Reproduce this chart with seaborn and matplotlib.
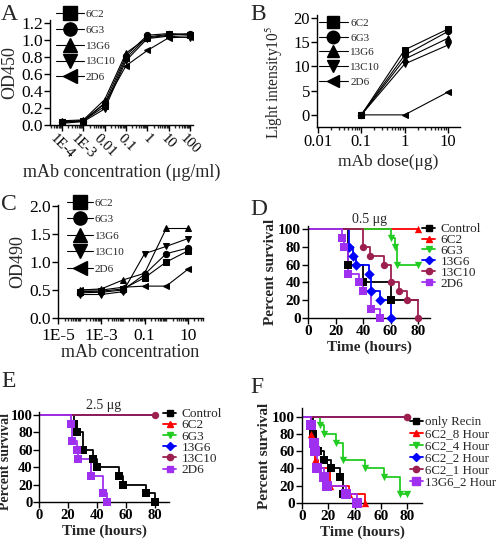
import matplotlib
matplotlib.use("Agg")
import matplotlib.pyplot as plt
import seaborn as sns
from matplotlib.lines import Line2D
from matplotlib.ticker import LogLocator, NullFormatter, FixedLocator, FixedFormatter

# ---------------- data ----------------
clones = ["6C2", "6G3", "13G6", "13C10", "2D6"]
clone_markers = ["s", "o", "^", "v", "<"]

# Panel A : ELISA
conc_a = [1e-4, 1e-3, 1e-2, 1e-1, 1, 10, 100]
conc_a_labels = ["1E-4", "1E-3", "0.01", "0.1", "1", "10", "100"]
od450_6C2 = [0.03, 0.05, 0.22, 0.79, 1.04, 1.07, 1.06]
od450_6G3 = [0.04, 0.05, 0.26, 0.82, 1.06, 1.08, 1.07]
od450_13G6 = [0.05, 0.06, 0.30, 0.85, 1.03, 1.06, 1.08]
od450_13C10 = [0.02, 0.04, 0.19, 0.76, 1.02, 1.05, 1.03]
od450_2D6 = [0.03, 0.05, 0.25, 0.70, 0.88, 1.03, 1.04]

# Panel B : light intensity (x10^5)
dose_b = [0.1, 1, 10]
dose_b_ticks = [0.01, 0.1, 1, 10]
dose_b_labels = ["0.01", "0.1", "1", "10"]
light_6C2 = [0, 13.4, 17.7]
light_6G3 = [0, 12.3, 17.2]
light_13G6 = [0, 11.5, 15.8]
light_13C10 = [0, 10.5, 14.4]
light_2D6 = [0, 0, 4.7]

# Panel C : OD490
conc_c = [1e-4, 1e-3, 1e-2, 1e-1, 1, 10]
conc_c_ticks = [1e-5, 1e-3, 1e-1, 10]
conc_c_labels = ["1E-5", "1E-3", "0.1", "10"]
od490_6C2 = [0.47, 0.48, 0.52, 0.72, 1.00, 1.20]
od490_6G3 = [0.45, 0.46, 0.50, 0.78, 1.15, 1.25]
od490_13G6 = [0.50, 0.52, 0.68, 0.80, 1.60, 1.60]
od490_13C10 = [0.42, 0.42, 0.47, 1.15, 1.28, 1.42]
od490_2D6 = [0.50, 0.50, 0.55, 0.57, 0.57, 0.87]

# Survival panels
km_colors = ["black", "#ff0000", "#22cc22", "#0000ff", "#9c1f4f", "#a030f0"]
km_markers = ["s", "^", "v", "D", "o", "s"]
groups_de = ["Control", "6C2", "6G3", "13G6", "13C10", "2D6"]
groups_f = ["only Recin", "6C2_8 Hour", "6C2_4 Hour", "6C2_2 Hour", "6C2_1 Hour", "13G6_2 Hour"]

# Panel D (0.5 ug): event times (h) and survival (%) after each event, last follow-up time
d_t_control = [29, 40, 60];                  d_s_control = [60, 40, 20];                  d_end_control = 80
d_t_6C2 = [];                                d_s_6C2 = [];                                d_end_6C2 = 80
d_t_6G3 = [60, 63, 65];                      d_s_6G3 = [90, 80, 60];                      d_end_6G3 = 80
d_t_13G6 = [30, 33, 35, 44, 46, 52, 60];     d_s_13G6 = [80, 70, 60, 50, 30, 20, 0];     d_end_13G6 = 60
d_t_13C10 = [40, 45, 55, 60, 66, 72, 80];    d_s_13C10 = [80, 70, 60, 40, 30, 20, 0];    d_end_13C10 = 80
d_t_2D6 = [25, 26, 29, 37, 40, 46, 52];      d_s_2D6 = [90, 80, 50, 40, 30, 10, 0];      d_end_2D6 = 52

# Panel E (2.5 ug)
e_t_control = [24, 26, 30, 37, 40, 55, 58, 74, 80]; e_s_control = [90, 80, 60, 50, 40, 30, 20, 10, 0]; e_end_control = 80
e_t_6C2 = [];  e_s_6C2 = [];  e_end_6C2 = 80
e_t_6G3 = [];  e_s_6G3 = [];  e_end_6G3 = 80
e_t_13G6 = []; e_s_13G6 = []; e_end_13G6 = 80
e_t_13C10 = []; e_s_13C10 = []; e_end_13C10 = 80
e_t_2D6 = [22, 23, 26, 27, 36, 44, 47];       e_s_2D6 = [90, 70, 60, 50, 30, 10, 0];        e_end_2D6 = 47

# Panel F (time of treatment)
f_t_recin = [8, 10, 12, 17, 22, 29, 31];      f_s_recin = [80, 70, 60, 50, 40, 30, 10];     f_end_recin = 33
f_t_8h = [7, 9, 10, 12, 21, 36, 48];          f_s_8h = [80, 60, 50, 40, 20, 10, 0];         f_end_8h = 48
f_t_4h = [14, 17, 26, 31, 48, 62, 74];        f_s_4h = [90, 80, 70, 50, 40, 30, 10];        f_end_4h = 80
f_t_2h = [];                                  f_s_2h = [];                                  f_end_2h = 80
f_t_1h = [];                                  f_s_1h = [];                                  f_end_1h = 80
f_t_13g6 = [7, 9, 10, 11, 17, 19, 33, 42];    f_s_13g6 = [90, 70, 60, 40, 30, 20, 10, 0];   f_end_13g6 = 42

# ---------------- style ----------------
sns.set_theme(style="ticks")
plt.rcParams["font.family"] = ["Liberation Serif", "DejaVu Serif"]
plt.rcParams["mathtext.fontset"] = "stix"
plt.rcParams["axes.linewidth"] = 1.0
plt.rcParams["xtick.major.width"] = 1.0
plt.rcParams["ytick.major.width"] = 1.0

W, H = 500, 544
fig = plt.figure(figsize=(W / 100, H / 100), dpi=100)


def add_ax(left, top, right, bottom):
    return fig.add_axes([left / W, 1 - bottom / H, (right - left) / W, (bottom - top) / H])


def style_ax(ax):
    sns.despine(ax=ax)
    ax.tick_params(direction="out", length=4, width=1.0, pad=1, colors="black")
    for s in ("left", "bottom"):
        ax.spines[s].set_color("black")


def dose_lines(ax, x, series, ms=4.5):
    for ys, m in zip(series, clone_markers):
        sns.lineplot(x=x, y=ys, ax=ax, color="black", marker=m, markersize=ms,
                     markeredgecolor="black", linewidth=0.8, legend=False,
                     estimator=None, sort=False)


def clone_legend(ax, x, y, fs, msize, hl, spacing):
    handles = [Line2D([], [], color="black", marker=m, markersize=msize, lw=0.8) for m in clone_markers]
    ax.legend(handles, clones, loc="upper left", bbox_to_anchor=(x / W, 1 - y / H),
              bbox_transform=fig.transFigure, frameon=False, fontsize=fs,
              handlelength=hl, handletextpad=0.2, labelspacing=spacing,
              borderpad=0, borderaxespad=0)


# ---------------- Panel A ----------------
axA = add_ax(50, 20, 193, 125)
axA.set_xscale("log")
dose_lines(axA, conc_a, [od450_6C2, od450_6G3, od450_13G6, od450_13C10, od450_2D6])
axA.set_xlim(2.74e-5, 138)
axA.xaxis.set_major_locator(FixedLocator(conc_a))
axA.xaxis.set_major_formatter(FixedFormatter(conc_a_labels))
axA.xaxis.set_minor_locator(LogLocator(base=10, subs=range(2, 10), numticks=20))
axA.xaxis.set_minor_formatter(NullFormatter())
axA.set_yticks([0, 0.2, 0.4, 0.6, 0.8, 1.0, 1.2])
axA.set_yticklabels(["0.0", "0.2", "0.4", "0.6", "0.8", "1.0", "1.2"])
axA.set_ylim(0, 1.24)
style_ax(axA)
axA.tick_params(axis="x", labelsize=10.5, rotation=-45)
axA.tick_params(axis="y", labelsize=12.5)
axA.tick_params(axis="x", which="minor", length=2)
axA.set_xlabel("mAb concentration (μg/ml)", fontsize=13, labelpad=2)
axA.set_ylabel("OD450", fontsize=13, labelpad=2)
clone_legend(axA, 56, 9, 8, 9.5, 2.5, 0.55)

# ---------------- Panel B ----------------
axB = add_ax(317, 15, 460, 127)
axB.set_xscale("log")
dose_lines(axB, dose_b, [light_6C2, light_6G3, light_13G6, light_13C10, light_2D6])
axB.set_xlim(0.0095, 19)
axB.set_ylim(-2.5, 20.6)
axB.xaxis.set_major_locator(FixedLocator(dose_b_ticks))
axB.xaxis.set_major_formatter(FixedFormatter(dose_b_labels))
axB.xaxis.set_minor_locator(LogLocator(base=10, subs=range(2, 10), numticks=20))
axB.xaxis.set_minor_formatter(NullFormatter())
axB.set_yticks([0, 5, 10, 15, 20])
style_ax(axB)
axB.tick_params(labelsize=12)
axB.tick_params(axis="x", which="minor", length=2)
axB.set_xlabel("mAb dose(μg)", fontsize=12.5, labelpad=3)
axB.set_ylabel("Light intensity10$^{5}$", fontsize=11.2)
axB.yaxis.set_label_coords(-0.225, 0.40)
clone_legend(axB, 319, 18, 8, 9, 2.6, 0.45)

# ---------------- Panel C ----------------
axC = add_ax(58, 205, 203, 318)
axC.set_xscale("log")
dose_lines(axC, conc_c, [od490_6C2, od490_6G3, od490_13G6, od490_13C10, od490_2D6])
axC.set_xlim(1e-5, 50)
axC.set_ylim(0, 2.02)
axC.xaxis.set_major_locator(FixedLocator(conc_c_ticks))
axC.xaxis.set_major_formatter(FixedFormatter(conc_c_labels))
axC.xaxis.set_minor_locator(LogLocator(base=10, subs=range(1, 10), numticks=20))
axC.xaxis.set_minor_formatter(NullFormatter())
axC.set_yticks([0, 0.5, 1.0, 1.5, 2.0])
axC.set_yticklabels(["0.0", "0.5", "1.0", "1.5", "2.0"])
style_ax(axC)
axC.tick_params(labelsize=12.5)
axC.tick_params(axis="x", pad=3)
axC.tick_params(axis="x", which="minor", length=2)
axC.set_xlabel("mAb concentration", fontsize=13, labelpad=0)
axC.set_ylabel("OD490", fontsize=13, labelpad=2)
clone_legend(axC, 67, 198, 8, 9.5, 2.3, 0.6)


# ---------------- survival panels ----------------
def km(ax, times, surv, end, color, marker, msize, end_mark):
    last = surv[-1] if surv else 100
    xs = [0] + list(times) + [end]
    ys = [100] + list(surv) + [last]
    sns.lineplot(x=xs, y=ys, ax=ax, color=color, linewidth=1.3, drawstyle="steps-post",
                 estimator=None, sort=False, legend=False)
    mx = list(times) + ([end] if end_mark else [])
    my = list(surv) + ([last] if end_mark else [])
    if mx:
        sns.scatterplot(x=mx, y=my, ax=ax, color=color, marker=marker, s=msize,
                        edgecolor=color, linewidth=0, legend=False, clip_on=False, zorder=5)


def km_style(ax, xmax, ymax, fs=11, yfs=11):
    ax.set_xlim(0, xmax)
    ax.set_ylim(0, ymax)
    ax.set_xticks([0, 20, 40, 60, 80])
    ax.set_yticks([0, 20, 40, 60, 80, 100])
    style_ax(ax)
    ax.tick_params(labelsize=fs)
    for lab in ax.get_xticklabels() + ax.get_yticklabels():
        lab.set_fontweight("bold")
    ax.set_xlabel("Time (hours)", fontsize=11, fontweight="bold", labelpad=2)
    ax.set_ylabel("Percent survival", fontsize=yfs, fontweight="bold", labelpad=1)


def km_legend(ax, labels, x, y, spacing, sizes, fs=9.5, tp=0.4):
    handles = [Line2D([], [], color=c, marker=m, markersize=sz, lw=1.3)
               for c, m, sz in zip(km_colors, km_markers, sizes)]
    ax.legend(handles, labels, loc="upper left", bbox_to_anchor=(x / W, 1 - y / H),
              bbox_transform=fig.transFigure, frameon=False, fontsize=fs,
              handlelength=1.0, handletextpad=tp, labelspacing=spacing,
              borderpad=0, borderaxespad=0)


# Panel D
axD = add_ax(308, 226, 430, 318)
d_sets = [(d_t_control, d_s_control, d_end_control, False),
          (d_t_6C2, d_s_6C2, d_end_6C2, True),
          (d_t_6G3, d_s_6G3, d_end_6G3, True),
          (d_t_13G6, d_s_13G6, d_end_13G6, False),
          (d_t_13C10, d_s_13C10, d_end_13C10, False),
          (d_t_2D6, d_s_2D6, d_end_2D6, False)]
for (t, s, e, em), c, m in zip(d_sets, km_colors, km_markers):
    km(axD, t, s, e, c, m, 28, em)
km_style(axD, 88.7, 103.4)
axD.set_title("0.5 μg", fontsize=10, pad=2)
km_legend(axD, groups_de, 422, 223, -0.1, [4, 4, 4, 4, 4.5, 4.5])

# Panel E
axE = add_ax(39, 412, 169, 502)
e_sets = [(e_t_control, e_s_control, e_end_control, False),
          (e_t_6C2, e_s_6C2, e_end_6C2, False),
          (e_t_6G3, e_s_6G3, e_end_6G3, False),
          (e_t_13G6, e_s_13G6, e_end_13G6, False),
          (e_t_13C10, e_s_13C10, e_end_13C10, True),
          (e_t_2D6, e_s_2D6, e_end_2D6, False)]
for (t, s, e, em), c, m in zip(e_sets, km_colors, km_markers):
    km(axE, t, s, e, c, m, 28, em)
km_style(axE, 89.6, 103.5, fs=10.5, yfs=10)
axE.tick_params(axis="y", pad=0.5)
axE.yaxis.set_label_coords(-0.205, 0.45)
axE.set_title("2.5 μg", fontsize=10, pad=2)
km_legend(axE, groups_de, 163, 408, -0.08, [4, 4, 4, 4, 4.5, 4.5])

# Panel F
axF = add_ax(302, 408, 422, 503)
f_sets = [(f_t_recin, f_s_recin, f_end_recin, False),
          (f_t_8h, f_s_8h, f_end_8h, False),
          (f_t_4h, f_s_4h, f_end_4h, True),
          (f_t_2h, f_s_2h, f_end_2h, False),
          (f_t_1h, f_s_1h, f_end_1h, True),
          (f_t_13g6, f_s_13g6, f_end_13g6, False)]
f_sizes = [28, 28, 28, 28, 30, 45]
for (t, s, e, em), c, m, sz in zip(f_sets, km_colors, km_markers, f_sizes):
    km(axF, t, s, e, c, m, sz, em)
km_style(axF, 91, 110)
km_legend(axF, groups_f, 410, 416, 0.0, [4, 4, 4, 4, 4.5, 6], fs=9.3, tp=0.15)

# Panel letters
for letter, x, y in [("A", 1, 4), ("B", 250, 4), ("C", 1, 194), ("D", 250, 199),
                     ("E", 1, 371), ("F", 250, 377)]:
    fig.text(x / W, 1 - y / H, letter, fontsize=17, va="top", ha="left")

fig.savefig("out.png", dpi=100)
